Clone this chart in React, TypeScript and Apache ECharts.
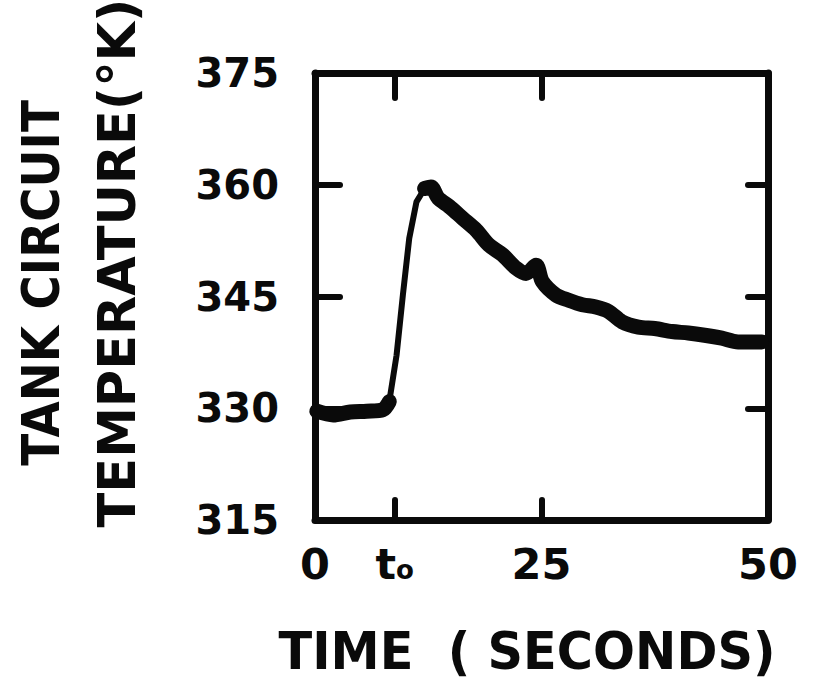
import React, { useEffect, useRef } from "react";
import * as echarts from "echarts";

// Temperature trace of the tank circuit
const baselineTime = [0.2, 2.0, 3.9, 5.7, 7.5, 8.2];
const baselineTemp = [329.6, 329.1, 329.5, 329.6, 329.8, 330.9];

const riseTime = [8.2, 9.0, 9.7, 10.4, 11.2, 12.1];
const riseTemp = [330.9, 337.1, 345.2, 352.8, 357.7, 359.5];

const decayTime = [12.1, 12.8, 13.6, 14.8, 16.3, 17.8, 19.2, 20.7, 22.2, 23.3, 24.4, 25.1, 26.6, 28.0, 29.5, 31.0, 32.4, 33.9, 35.7, 37.5, 39.4, 41.2, 43.0, 44.9, 46.7, 49.3];
const decayTemp = [359.5, 359.7, 358.2, 357.1, 355.5, 353.9, 351.9, 350.6, 348.8, 348.1, 349.2, 347.0, 345.2, 344.5, 343.9, 343.6, 343.0, 341.6, 340.9, 340.7, 340.3, 340.1, 339.8, 339.4, 338.9, 338.9];

const xTickValues = [8.8, 25];
const xLabelValues = [0, 8.8, 25, 50];
const yTickValues = [330, 345, 360];
const yLabelValues = [315, 330, 345, 360, 375];

const pairs = (xs: number[], ys: number[]) => xs.map((x, i) => [x, ys[i]]);

const FONT = "DejaVu Sans";
const INK = "#0a0a0a";

export default function App() {
  const ref = useRef<HTMLDivElement>(null);
  useEffect(() => {
    if (!ref.current) return;
    const chart = echarts.init(ref.current, null, { renderer: "svg" });
    const axisLine = { show: true, onZero: false, lineStyle: { color: INK, width: 7, cap: "round" } };
    const tickStyle = { color: INK, width: 6, cap: "round" };
    chart.setOption({
      animation: false,
      backgroundColor: "#ffffff",
      grid: { left: 315, right: 49, top: 73, bottom: 164 },
      xAxis: [
        {
          type: "value",
          position: "bottom",
          min: 0,
          max: 50,
          axisLine,
          splitLine: { show: false },
          axisTick: { show: true, inside: true, length: 20, customValues: xTickValues, lineStyle: tickStyle },
          axisLabel: {
            show: true,
            customValues: xLabelValues,
            margin: 22,
            color: INK,
            fontFamily: FONT,
            fontWeight: "bold",
            fontSize: 43,
            formatter: (v: number) => (v === 8.8 ? "{t|t}{o|o}" : String(v)),
            rich: {
              t: { fontFamily: FONT, fontWeight: "bold", fontSize: 43, color: INK },
              o: { fontFamily: FONT, fontWeight: "bold", fontSize: 26, color: INK, verticalAlign: "bottom", padding: [0, 0, 2, 0] },
            },
          },
        },
        {
          type: "value",
          position: "top",
          min: 0,
          max: 50,
          axisLine,
          splitLine: { show: false },
          axisTick: { show: true, inside: true, length: 25, customValues: xTickValues, lineStyle: tickStyle },
          axisLabel: { show: false },
        },
      ],
      yAxis: [
        {
          type: "value",
          position: "left",
          min: 315,
          max: 375,
          interval: 15,
          axisLine,
          splitLine: { show: false },
          axisTick: { show: true, inside: true, length: 25, customValues: yTickValues, lineStyle: tickStyle },
          axisLabel: {
            show: true,
            customValues: yLabelValues,
            margin: 36,
            color: INK,
            fontFamily: FONT,
            fontWeight: "bold",
            fontSize: 40,
          },
        },
        {
          type: "value",
          position: "right",
          min: 315,
          max: 375,
          interval: 15,
          axisLine,
          splitLine: { show: false },
          axisTick: { show: true, inside: true, length: 20, customValues: yTickValues, lineStyle: tickStyle },
          axisLabel: { show: false },
        },
      ],
      series: [
        {
          type: "line",
          data: pairs(baselineTime, baselineTemp),
          showSymbol: false,
          smooth: 0.3,
          lineStyle: { color: INK, width: 15, cap: "round", join: "round" },
        },
        {
          type: "line",
          data: pairs(riseTime, riseTemp),
          showSymbol: false,
          smooth: false,
          lineStyle: { color: INK, width: 6, cap: "round", join: "round" },
        },
        {
          type: "line",
          data: pairs(decayTime, decayTemp),
          showSymbol: false,
          smooth: 0.3,
          lineStyle: { color: INK, width: 15, cap: "round", join: "round" },
        },
      ],
      graphic: [
        {
          type: "text",
          x: 41,
          y: 283,
          rotation: Math.PI / 2,
          scaleX: 0.9,
          style: {
            text: "TANK CIRCUIT",
            fontFamily: FONT,
            fontWeight: "bold",
            fontSize: 52,
            fill: INK,
            align: "center",
            verticalAlign: "middle",
          },
        },
        {
          type: "text",
          x: 117,
          y: 263,
          rotation: Math.PI / 2,
          scaleX: 0.98,
          style: {
            text: "TEMPERATURE(°K)",
            fontFamily: FONT,
            fontWeight: "bold",
            fontSize: 52,
            fill: INK,
            align: "center",
            verticalAlign: "middle",
          },
        },
        {
          type: "text",
          x: 527,
          y: 651,
          scaleX: 0.95,
          style: {
            text: "TIME  ( SECONDS)",
            fontFamily: FONT,
            fontWeight: "bold",
            fontSize: 52,
            fill: INK,
            align: "center",
            verticalAlign: "middle",
          },
        },
      ],
    });
    return () => chart.dispose();
  }, []);
  return (
    <div
      ref={ref}
      style={{ position: "absolute", left: 0, top: 0, width: 817, height: 684, background: "#fff" }}
    />
  );
}
